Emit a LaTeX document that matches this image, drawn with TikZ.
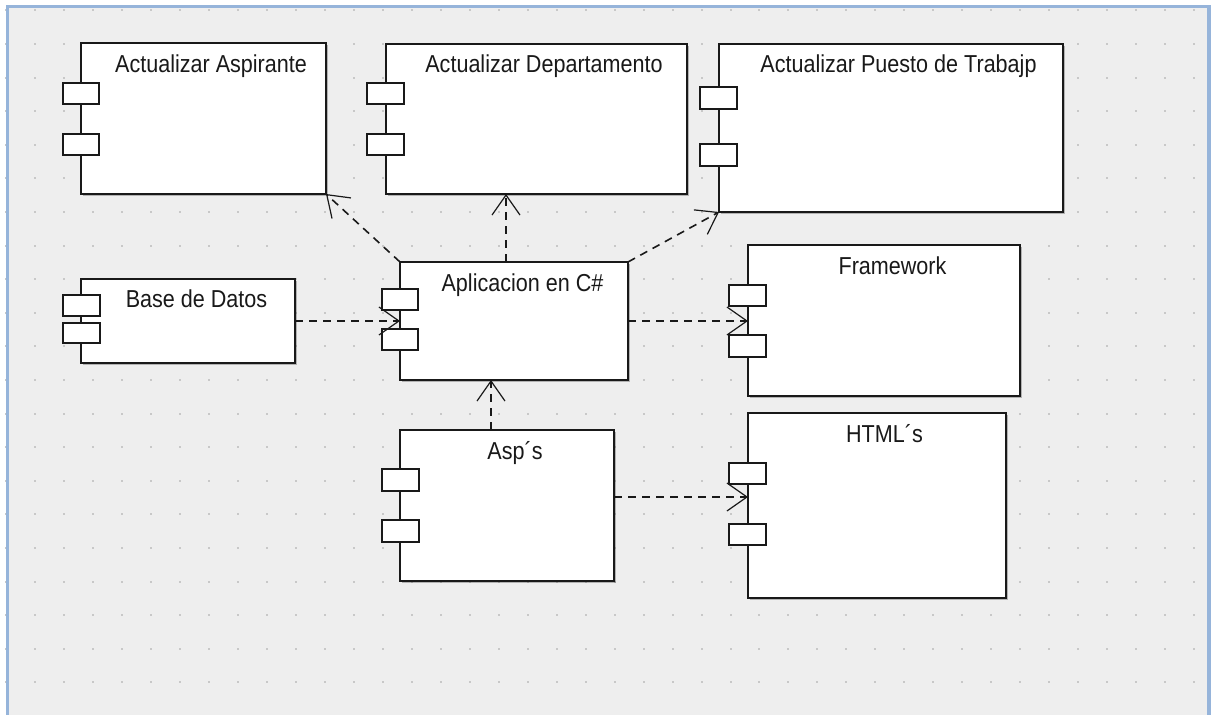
\documentclass[tikz,border=0pt]{standalone}
\usepackage{fontspec}
\setmainfont{Liberation Sans}
\usetikzlibrary{arrows.meta,shadows,fit}
\definecolor{canvas}{RGB}{238,238,238}
\definecolor{griddot}{RGB}{200,200,200}
\definecolor{frameblue}{RGB}{150,180,218}
\definecolor{ink}{RGB}{25,25,25}
\newcommand\lbltext[1]{\scalebox{0.88}[1]{#1}}
\begin{document}
\begin{tikzpicture}[x=0.5pt,y=-0.5pt,
  comp/.style={draw=ink, line width=1pt, fill=white, inner sep=0pt, outer sep=0pt,
    drop shadow={shadow xshift=1pt,shadow yshift=-1pt,opacity=.25,fill=black}},
  port/.style={draw=ink, line width=0.9pt, fill=white, inner sep=0pt, outer sep=0pt},
  lbl/.style={anchor=base, inner sep=0pt, text=ink, font=\fontsize{12.25}{14}\selectfont},
  dep/.style={draw=ink, line width=0.8pt, dash pattern=on 4pt off 3pt,
    -{Straight Barb[length=10pt,width=14pt,line width=0.6pt]}}
]
\useasboundingbox (0,0) rectangle (1211,715);
\fill[white] (0,0) rectangle (1211,715);
\fill[canvas] (6,5) rectangle (1211,715);

% dotted drawing grid
\foreach \i in {0,...,41}
  \foreach \j in {0,...,21}
    \fill[griddot] ({6+28.98*\i-1},{10.4+33.6*\j-1}) rectangle ++(2,2);

% window frame
\fill[frameblue] (6,5) rectangle (1211,8.3);
\fill[frameblue] (6,5) rectangle (9,715);
\fill[frameblue] (1207,5) rectangle (1211,715);

% components
\node[comp, fit={(81,43) (326,194)}] (asp1) {};
\node[port, fit={(63,83) (99,104)}] (asp1p1) {};
\node[port, fit={(63,134) (99,155)}] (asp1p2) {};
\node[lbl] (asp1t) at (211,73) {\lbltext{Actualizar Aspirante}};

\node[comp, fit={(386,44) (687,194)}] (dep1) {};
\node[port, fit={(367,83) (404,104)}] (dep1p1) {};
\node[port, fit={(367,134) (404,155)}] (dep1p2) {};
\node[lbl] (dep1t) at (544,73) {\lbltext{Actualizar Departamento}};

\node[comp, fit={(719,44) (1063,212)}] (pue1) {};
\node[port, fit={(700,87) (737,109)}] (pue1p1) {};
\node[port, fit={(700,144) (737,166)}] (pue1p2) {};
\node[lbl] (pue1t) at (898.5,73) {\lbltext{Actualizar Puesto de Trabajp}};

\node[comp, fit={(400,262) (628,380)}] (app) {};
\node[port, fit={(382,289) (418,310)}] (appp1) {};
\node[port, fit={(382,329) (418,350)}] (appp2) {};
\node[lbl] (appt) at (522.5,292) {\lbltext{Aplicacion en C\#}};

\node[comp, fit={(81,279) (295,363)}] (bd) {};
\node[port, fit={(63,295) (100,316)}] (bdp1) {};
\node[port, fit={(63,323) (100,343)}] (bdp2) {};
\node[lbl] (bdt) at (196.5,308) {\lbltext{Base de Datos}};

\node[comp, fit={(400,430) (614,581)}] (asps) {};
\node[port, fit={(382,469) (419,491)}] (aspsp1) {};
\node[port, fit={(382,520) (419,542)}] (aspsp2) {};
\node[lbl] (aspst) at (515,460) {\lbltext{Asp´s}};

\node[comp, fit={(748,245) (1020,396)}] (fw) {};
\node[port, fit={(729,285) (766,306)}] (fwp1) {};
\node[port, fit={(729,335) (766,357)}] (fwp2) {};
\node[lbl] (fwt) at (892.5,275) {\lbltext{Framework}};

\node[comp, fit={(748,413) (1006,598)}] (html) {};
\node[port, fit={(729,463) (766,484)}] (htmlp1) {};
\node[port, fit={(729,524) (766,545)}] (htmlp2) {};
\node[lbl] (htmlt) at (884.5,443) {\lbltext{HTML´s}};

% dependencies
\coordinate (appup) at ([xshift=53pt]app.north west);
\coordinate (aspup) at ([xshift=45.5pt]asps.north west);
\coordinate (aspright) at ([yshift=4.25pt]asps.east);

\draw[dep] (app.north west) -- (asp1.south east);
\draw[dep] (appup) -- (appup |- dep1.south);
\draw[dep] (app.north east) -- (pue1.south west);
\draw[dep] (bd.east) -- (bd.east -| app.west);
\draw[dep] (app.east) -- (app.east -| fw.west);
\draw[dep] (aspup) -- (aspup |- app.south);
\draw[dep] (aspright) -- (aspright -| html.west);
\end{tikzpicture}
\end{document}
